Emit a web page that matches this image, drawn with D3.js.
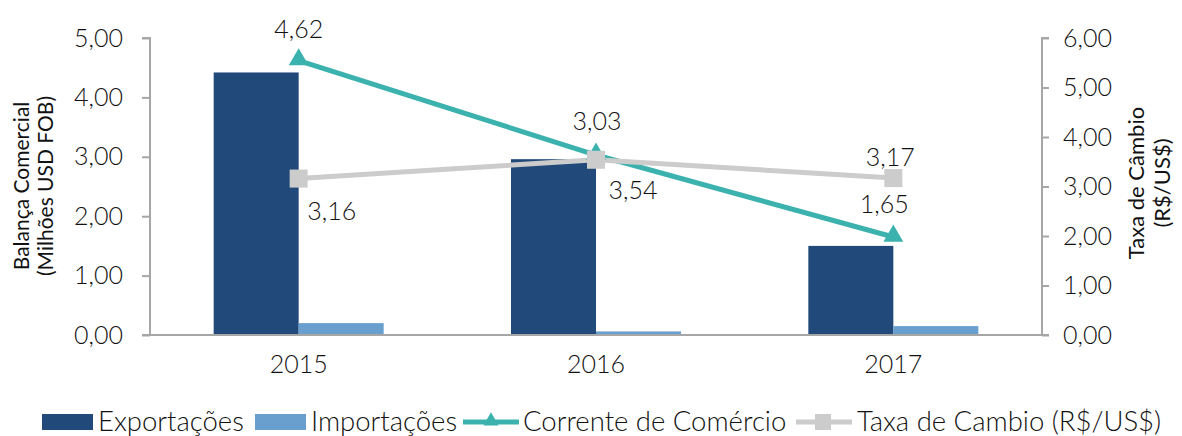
<!DOCTYPE html>
<html>
<head>
<meta charset="utf-8">
<script src="https://cdn.jsdelivr.net/npm/d3@7"></script>
<style>
  body { margin: 0; background: #fff; }
  text { font-family: Lato, "Noto Sans", sans-serif; font-weight: 300; fill: #111; }
</style>
</head>
<body>
<div id="vis"></div>
<script>
const years = ["2015", "2016", "2017"];
const exportacoes = [4.42, 2.96, 1.50];
const importacoes = [0.20, 0.06, 0.15];
const corrente = [4.62, 3.03, 1.65];
const taxa = [3.16, 3.54, 3.17];
const leftTicks = [0, 1, 2, 3, 4, 5];
const rightTicks = [0, 1, 2, 3, 4, 5, 6];

const width = 1182, height = 436;
const plotL = 150, plotR = 1042, plotT = 38, plotB = 335;

const svg = d3.select("#vis").append("svg")
  .attr("width", width).attr("height", height);

const x = d3.scaleBand().domain(years).range([plotL, plotR]);
const yL = d3.scaleLinear().domain([0, 5]).range([plotB, plotT]);
const yR = d3.scaleLinear().domain([0, 6]).range([plotB, plotT]);
const fmt = v => d3.format(".2f")(v).replace(".", ",");
const cx = d => x(d) + x.bandwidth() / 2;
const barW = 85;

// bars
svg.selectAll(".exp").data(years).enter().append("rect")
  .attr("x", d => cx(d) - barW)
  .attr("y", (d, i) => yL(exportacoes[i]))
  .attr("width", barW)
  .attr("height", (d, i) => plotB - yL(exportacoes[i]))
  .attr("fill", "#214a7b");

svg.selectAll(".imp").data(years).enter().append("rect")
  .attr("x", d => cx(d))
  .attr("y", (d, i) => yL(importacoes[i]))
  .attr("width", barW)
  .attr("height", (d, i) => plotB - yL(importacoes[i]))
  .attr("fill", "#689fcf");

// axes
const axisColor = "#a6a6a6";
const gL = svg.append("g").attr("transform", `translate(${plotL},0)`)
  .call(d3.axisLeft(yL).tickValues(leftTicks).tickSize(8).tickPadding(19).tickFormat(fmt));
const gR = svg.append("g").attr("transform", `translate(${plotR},0)`)
  .call(d3.axisRight(yR).tickValues(rightTicks).tickSize(7).tickPadding(14).tickFormat(fmt));
const gX = svg.append("g").attr("transform", `translate(0,${plotB})`)
  .call(d3.axisBottom(x).tickSize(0).tickPadding(20));
[gL, gR, gX].forEach(g => {
  g.selectAll("path, line").attr("stroke", axisColor).attr("stroke-width", 2);
  g.selectAll("text").style("font-size", "25px").attr("fill", "#111")
    .style("font-family", "Lato, 'Noto Sans', sans-serif").style("font-weight", 300);
});
gL.select(".domain").attr("d", `M-8,${plotT}H0V${plotB}H-8`);
gR.select(".domain").attr("d", `M7,${plotT}H0V${plotB}H7`);
gX.select(".domain").attr("d", `M${plotL},0H${plotR}`);

// lines
const lineL = d3.line().x(d => cx(d.y)).y(d => yL(d.v));
const lineR = d3.line().x(d => cx(d.y)).y(d => yR(d.v));
const cData = years.map((y, i) => ({ y, v: corrente[i] }));
const tData = years.map((y, i) => ({ y, v: taxa[i] }));

svg.append("path").datum(cData).attr("d", lineL)
  .attr("fill", "none").attr("stroke", "#3cb2ae").attr("stroke-width", 5);
svg.append("path").datum(tData).attr("d", lineR)
  .attr("fill", "none").attr("stroke", "#cccccc").attr("stroke-width", 5);

const tri = d3.symbol().type(d3.symbolTriangle).size(170);
svg.selectAll(".tri").data(cData).enter().append("path")
  .attr("d", tri)
  .attr("transform", d => `translate(${cx(d.y)},${yL(d.v) - 1})`)
  .attr("fill", "#3cb2ae");

const sq = 18;
svg.selectAll(".sq").data(tData).enter().append("rect")
  .attr("x", d => cx(d.y) - sq / 2)
  .attr("y", d => yR(d.v) - sq / 2)
  .attr("width", sq).attr("height", sq)
  .attr("fill", "#cccccc");

// data labels
const cOff = [[0, -23], [1, -25], [-9, -24]];
const tOff = [[33, 41], [37, 39], [-3, -12]];
svg.selectAll(".cl").data(cData).enter().append("text")
  .attr("x", (d, i) => cx(d.y) + cOff[i][0])
  .attr("y", (d, i) => yL(d.v) + cOff[i][1])
  .attr("text-anchor", "middle")
  .style("font-size", "25px")
  .text(d => fmt(d.v));
svg.selectAll(".tl").data(tData).enter().append("text")
  .attr("x", (d, i) => cx(d.y) + tOff[i][0])
  .attr("y", (d, i) => yR(d.v) + tOff[i][1])
  .attr("text-anchor", "middle")
  .style("font-size", "25px")
  .text(d => fmt(d.v));

// axis titles
const tl = svg.append("text").attr("transform", "translate(29,186) rotate(-90)")
  .attr("text-anchor", "middle").style("font-size", "21px").style("font-weight", 400);
tl.append("tspan").attr("x", 0).attr("dy", 0).text("Balança Comercial");
tl.append("tspan").attr("x", 0).attr("dy", 24).text("(Milhões USD FOB)");

const tr = svg.append("text").attr("transform", "translate(1144,183) rotate(-90)")
  .attr("text-anchor", "middle").style("font-size", "22px").style("font-weight", 400);
tr.append("tspan").attr("x", 0).attr("dy", 0).text("Taxa de Câmbio");
tr.append("tspan").attr("x", 0).attr("dy", 26).text("(R$/US$)");

// legend
const ly = 422;
const legend = svg.append("g").style("font-size", "27.5px");
legend.append("rect").attr("x", 42).attr("y", ly - 8).attr("width", 51).attr("height", 16).attr("fill", "#214a7b");
legend.append("text").attr("x", 98).attr("y", ly + 9).text("Exportações");
legend.append("rect").attr("x", 255).attr("y", ly - 8).attr("width", 51).attr("height", 16).attr("fill", "#689fcf");
legend.append("text").attr("x", 311).attr("y", ly + 9).text("Importações");
legend.append("line").attr("x1", 463).attr("x2", 519).attr("y1", ly).attr("y2", ly)
  .attr("stroke", "#3cb2ae").attr("stroke-width", 5);
legend.append("path").attr("d", d3.symbol().type(d3.symbolTriangle).size(100))
  .attr("transform", `translate(491,${ly - 1})`).attr("fill", "#3cb2ae");
legend.append("text").attr("x", 523).attr("y", ly + 9).text("Corrente de Comércio");
legend.append("line").attr("x1", 796).attr("x2", 852).attr("y1", ly).attr("y2", ly)
  .attr("stroke", "#cccccc").attr("stroke-width", 5);
legend.append("rect").attr("x", 815).attr("y", ly - 8).attr("width", 16).attr("height", 16).attr("fill", "#cccccc");
legend.append("text").attr("x", 857).attr("y", ly + 9).text("Taxa de Cambio (R$/US$)");
</script>
</body>
</html>
